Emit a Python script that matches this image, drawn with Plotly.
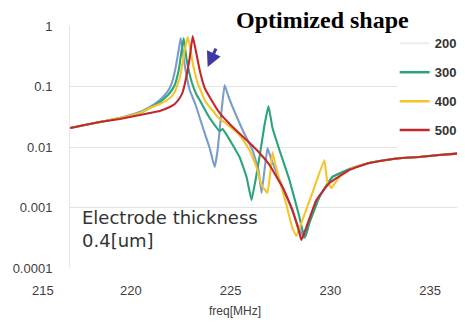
import plotly.graph_objects as go

# ---- data (freq in MHz, response values) ----
f_200 = [216.95, 218.45, 219.45, 220.45, 220.95, 221.45, 221.7, 221.95, 222.1, 222.25, 222.4, 222.5,
         222.6, 222.7, 222.95, 223.25, 223.6, 223.95, 224.2, 224.35, 224.55, 224.7, 224.9, 225.1,
         225.6, 226.1, 226.4, 226.55, 226.7, 226.85, 227.05, 227.45, 227.95, 228.3, 228.55, 228.7,
         228.95, 229.45, 230.1, 231.1, 231.95, 232.8, 233.6, 234.45, 235.45, 236.75]
v_200 = [0.0206, 0.0259, 0.0301, 0.038, 0.0458, 0.0598, 0.0724, 0.0944, 0.128, 0.21, 0.401, 0.634,
         0.401, 0.227, 0.0875, 0.0495, 0.0214, 0.0096, 0.00467, 0.0089, 0.0409, 0.106, 0.0671, 0.0458,
         0.0191, 0.0089, 0.00417, 0.00174, 0.00417, 0.0096, 0.0061, 0.00285, 0.00119, 0.000575, 0.000379, 0.000313,
         0.000575, 0.00149, 0.00319, 0.0045, 0.00544, 0.0061, 0.00658, 0.00684, 0.00738, 0.00796]

f_300 = [216.95, 218.45, 219.45, 220.45, 220.95, 221.45, 221.7, 221.95, 222.2, 222.4, 222.55, 222.65,
         222.8, 223.05, 223.3, 223.45, 223.95, 224.45, 224.6, 224.75, 225.45, 225.8, 226.05, 226.25,
         226.45, 226.7, 226.9, 227.1, 227.45, 227.95, 228.45, 228.6, 228.75, 228.95, 229.45,
         230.1, 231.1, 231.95, 232.8, 233.6, 234.45, 235.45, 236.75]
v_300 = [0.0206, 0.0259, 0.0301, 0.0365, 0.0441, 0.0554, 0.0645, 0.0781, 0.106, 0.187, 0.401, 0.634,
         0.274, 0.119, 0.0724, 0.0598, 0.0301, 0.0184, 0.0199, 0.0170, 0.00684, 0.00319, 0.00133, 0.00285,
         0.00684, 0.0231, 0.0476, 0.0206, 0.0089, 0.00285, 0.000697, 0.000425, 0.000325, 0.000554, 0.00149,
         0.00319, 0.0045, 0.00544, 0.0061, 0.00658, 0.00684, 0.00738, 0.00796]

f_400 = [216.95, 218.45, 219.45, 220.45, 220.95, 221.45, 221.95, 222.2, 222.45, 222.6, 222.7, 222.85,
         222.95, 223.1, 223.35, 223.7, 223.95, 224.2, 224.35, 224.8, 225.45, 225.95, 226.3, 226.55,
         226.85, 227.0, 227.1, 227.25, 227.45, 227.8, 228.1, 228.3, 228.6, 229.1, 229.7, 229.85,
         230.05, 230.45, 231.1, 231.95, 232.8, 233.6, 234.45, 235.45, 236.75]
v_400 = [0.0206, 0.0259, 0.0301, 0.0365, 0.0441, 0.0514, 0.0646, 0.0811, 0.138, 0.254, 0.401, 0.658,
         0.485, 0.245, 0.114, 0.0598, 0.0458, 0.0365, 0.0313, 0.024, 0.0158, 0.0089, 0.00467, 0.00235,
         0.00174, 0.00417, 0.00827, 0.00504, 0.00285, 0.0011, 0.000458, 0.000338, 0.000621, 0.00174, 0.0061, 0.00264,
         0.0021, 0.00319, 0.0045, 0.00544, 0.0061, 0.00658, 0.00684, 0.00738, 0.00796]

f_500 = [216.95, 218.45, 219.45, 220.45, 220.95, 221.45, 221.95, 222.2, 222.45, 222.6, 222.8, 222.95,
         223.1, 223.25, 223.45, 223.7, 223.95, 224.45, 225.1, 225.8, 226.45, 226.95, 227.6, 228.1,
         228.45, 228.55, 228.8, 229.3, 229.95, 230.95, 231.95, 232.8, 233.6, 234.45, 235.45, 236.75]
v_500 = [0.0206, 0.0259, 0.029, 0.0338, 0.0365, 0.0394, 0.0458, 0.0514, 0.0646, 0.0811, 0.155, 0.296,
         0.684, 0.401, 0.187, 0.0944, 0.0671, 0.0365, 0.0214, 0.013, 0.00796, 0.00504, 0.00218, 0.00091,
         0.000379, 0.00029, 0.000476, 0.00133, 0.00254, 0.00417, 0.00544, 0.0061, 0.00658, 0.00684, 0.00738, 0.00796]

series_names = ["200", "300", "400", "500"]
colors = ["#7a9ccb", "#2aa57a", "#f6c42a", "#c3272e"]
y_tickvals = [1, 0.1, 0.01, 0.001, 0.0001]
y_ticktext = ["1", "0.1", "0.01", "0.001", "0.0001"]
x_tickvals = [220, 225, 230, 235]

fig = go.Figure()
data = [(f_200, v_200), (f_300, v_300), (f_400, v_400), (f_500, v_500)]
for i, (xs, ys) in enumerate(data):
    fig.add_trace(go.Scatter(x=xs, y=ys, mode="lines", name=series_names[i],
                             line=dict(color=colors[i], width=2.1, shape="spline", smoothing=0.3),
                             showlegend=False))

# legend entries (the 200 swatch is very faint in the original)
legend_colors = ["#eef2f8", colors[1], colors[2], colors[3]]
for i, nm in enumerate(series_names):
    fig.add_trace(go.Scatter(x=[None], y=[None], mode="lines", name="<b>" + nm + "</b>",
                             legendgroup=nm, line=dict(color=legend_colors[i], width=2.5)))

# the page body adds an 8px offset, so the figure is 8px smaller and margins reduced
fig.update_layout(
    width=457, height=320,
    margin=dict(l=62, r=0, t=18, b=60, autoexpand=False),
    paper_bgcolor="white", plot_bgcolor="white",
    font=dict(family="Liberation Sans, Arial", size=13, color="#404040"),
    showlegend=True,
    legend=dict(x=0.822, xanchor="left", y=0.99, yanchor="top",
                bgcolor="rgba(0,0,0,0)", borderwidth=0, tracegroupgap=9,
                font=dict(size=13, color="#333333", family="Liberation Sans, Arial"),
                itemwidth=30),
)
fig.update_xaxes(range=[216.95, 236.75], tickvals=x_tickvals, showgrid=False, zeroline=False,
                 showline=False, ticks="", ticklabelstandoff=13, automargin=False,
                 tickfont=dict(size=13, color="#404040"))
fig.update_yaxes(type="log", range=[-4, 0.0], tickvals=y_tickvals, ticktext=y_ticktext,
                 showgrid=True, gridcolor="#e3e3e3", gridwidth=1, zeroline=False,
                 showline=True, linecolor="#e6e6e6", linewidth=1,
                 ticks="", ticklabelstandoff=14, automargin=False,
                 tickfont=dict(size=13, color="#404040"))

# white backdrops (legend area and title strip) covering gridlines
fig.add_shape(type="rect", xref="paper", yref="paper", x0=0.828, x1=1.0, y0=0.488, y1=0.983,
              fillcolor="white", line=dict(width=0), layer="above")
fig.add_shape(type="rect", xref="paper", yref="paper", x0=0.367, x1=0.929, y0=0.98, y1=1.03,
              fillcolor="white", line=dict(width=0), layer="above")

fig.add_annotation(xref="paper", yref="paper", x=0.638, y=1.025, yanchor="middle", xanchor="center",
                   text="<b>Optimized shape</b>", showarrow=False,
                   font=dict(family="Liberation Serif, Times New Roman", size=24, color="black"))
fig.add_annotation(xref="paper", yref="paper", x=0.026, y=0.26, xanchor="left", yanchor="top",
                   text="Electrode thickness<br>0.4[um]", showarrow=False, align="left",
                   font=dict(family="DejaVu Sans", size=18, color="#333333"))
fig.add_annotation(xref="paper", yref="paper", x=-0.068, y=-0.091, xanchor="center", yanchor="middle",
                   text="215", showarrow=False, font=dict(size=13, color="#404040"))
fig.add_annotation(xref="paper", yref="paper", x=0.418, y=-0.178, xanchor="center", yanchor="middle",
                   text="freq[MHz]", showarrow=False, font=dict(size=12, color="#404040"))
fig.add_annotation(x=223.85, y=-0.678, ax=9, ay=-20, showarrow=True, arrowhead=2,
                   arrowsize=1, arrowwidth=3, arrowcolor="#3d3aa6", text="")

fig.write_html("out.html")
